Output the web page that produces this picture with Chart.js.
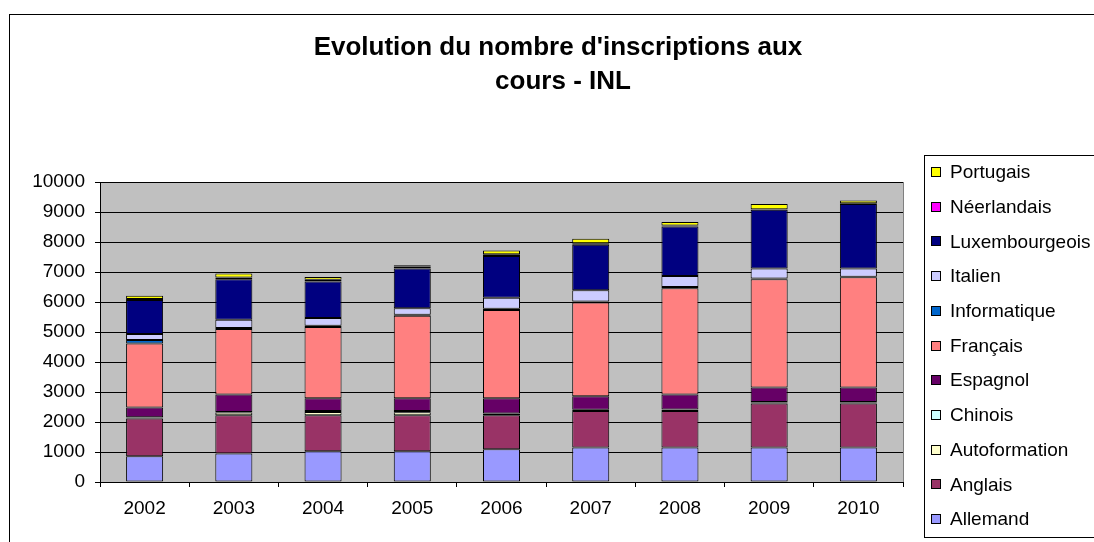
<!DOCTYPE html>
<html>
<head>
<meta charset="utf-8">
<script src="https://cdn.jsdelivr.net/npm/chart.js@4/dist/chart.umd.min.js"></script>
<style>
  html, body { margin: 0; padding: 0; background: #fff; }
  canvas { display: block; }
</style>
</head>
<body>
<canvas id="app" width="1094" height="542"></canvas>
<script>
// years on the x axis
const years = ['2002', '2003', '2004', '2005', '2006', '2007', '2008', '2009', '2010'];

// number of enrolments per course
const allemand       = [855, 946, 1025, 1025, 1090, 1150, 1150, 1150, 1150];
const anglais        = [1260, 1280, 1200, 1200, 1135, 1220, 1220, 1465, 1465];
const autoformation  = [30, 90, 110, 100, 40, 30, 35, 35, 35];
const chinois        = [10, 20, 35, 45, 20, 10, 15, 15, 15];
const espagnol       = [330, 580, 425, 425, 510, 450, 500, 485, 485];
const francais       = [2135, 2180, 2370, 2750, 2940, 3120, 3540, 3610, 3675];
const informatique   = [110, 40, 40, 30, 40, 40, 40, 20, 20];
const italien        = [200, 270, 265, 215, 370, 370, 370, 335, 270];
const luxembourgeois = [1140, 1350, 1215, 1325, 1390, 1515, 1650, 1960, 2150];
const neerlandais    = [30, 60, 60, 70, 60, 50, 30, 20, 30];
const portugais      = [110, 130, 90, 40, 120, 150, 115, 170, 90];

const yTicks = [0, 1000, 2000, 3000, 4000, 5000, 6000, 7000, 8000, 9000, 10000];

const FONT = '"Liberation Sans", Arial, sans-serif';

const series = [
  { label: 'Allemand', data: allemand, color: '#9999FF' },
  { label: 'Anglais', data: anglais, color: '#993366' },
  { label: 'Autoformation', data: autoformation, color: '#FFFFCC' },
  { label: 'Chinois', data: chinois, color: '#CCFFFF' },
  { label: 'Espagnol', data: espagnol, color: '#660066' },
  { label: 'Français', data: francais, color: '#FF8080' },
  { label: 'Informatique', data: informatique, color: '#0066CC' },
  { label: 'Italien', data: italien, color: '#CCCCFF' },
  { label: 'Luxembourgeois', data: luxembourgeois, color: '#000080' },
  { label: 'Néerlandais', data: neerlandais, color: '#FF00FF' },
  { label: 'Portugais', data: portugais, color: '#FFFF00' },
];

const datasets = series.map(s => ({
  label: s.label,
  data: s.data,
  backgroundColor: s.color,
  borderColor: '#000',
  borderWidth: 1,
  borderSkipped: false,
  barPercentage: 0.415,
  categoryPercentage: 1,
}));

// page frame, grey plot area, title and the boxed legend
const decor = {
  id: 'decor',
  beforeDraw(chart) {
    const { ctx, chartArea: a } = chart;
    ctx.save();
    ctx.fillStyle = '#fff';
    ctx.fillRect(0, 0, chart.width, chart.height);
    ctx.strokeStyle = '#000';
    ctx.lineWidth = 1;
    ctx.strokeRect(9.5, 14.5, 1200, 600);
    ctx.fillStyle = '#C0C0C0';
    ctx.fillRect(a.left, a.top, a.right - a.left, a.bottom - a.top);
    ctx.strokeStyle = '#808080';
    ctx.strokeRect(a.left + 0.5, a.top + 0.5, a.right - a.left, a.bottom - a.top);
    ctx.restore();
  },
  afterDraw(chart) {
    const { ctx } = chart;
    ctx.save();
    // title
    ctx.fillStyle = '#000';
    ctx.font = 'bold 26px ' + FONT;
    ctx.textAlign = 'center';
    ctx.textBaseline = 'middle';
    ctx.fillText("Evolution du nombre d'inscriptions aux", 558, 48);
    ctx.fillText('cours - INL', 563, 82);

    // legend
    ctx.strokeStyle = '#000';
    ctx.lineWidth = 1;
    ctx.strokeRect(924.5, 155.5, 300, 382);
    ctx.font = '19px ' + FONT;
    ctx.textAlign = 'left';
    const ds = chart.data.datasets;
    for (let i = 0; i < ds.length; i++) {
      const d = ds[ds.length - 1 - i];
      const y = 172 + i * 34.7;
      ctx.fillStyle = d.backgroundColor;
      ctx.fillRect(931, Math.round(y) - 4, 9, 9);
      ctx.strokeRect(931.5, Math.round(y) - 4.5, 9, 9);
      ctx.fillStyle = '#000';
      ctx.fillText(d.label, 950, y + 1);
    }
    ctx.restore();
  }
};

new Chart(document.getElementById('app'), {
  type: 'bar',
  data: { labels: years, datasets },
  options: {
    responsive: false,
    animation: false,
    layout: { padding: { left: 0, top: 182, right: 191, bottom: 0 } },
    plugins: {
      legend: { display: false },
      title: { display: false },
      tooltip: { enabled: false },
    },
    scales: {
      x: {
        stacked: true,
        afterFit: (s) => { s.height = 60; },
        grid: { offset: true, drawOnChartArea: false, color: '#000', tickLength: 5 },
        border: { color: '#000' },
        ticks: { color: '#000', font: { family: FONT, size: 19 }, padding: 10, maxRotation: 0 },
      },
      y: {
        stacked: true,
        min: 0,
        max: 10000,
        afterFit: (s) => { s.width = 100; },
        afterBuildTicks: (s) => { s.ticks = yTicks.map(v => ({ value: v })); },
        grid: { color: '#000', tickLength: 5 },
        border: { color: '#000' },
        ticks: {
          color: '#000',
          font: { family: FONT, size: 19 },
          padding: 10,
          callback: (v) => String(v),
        },
      },
    },
  },
  plugins: [decor],
});
</script>
</body>
</html>
